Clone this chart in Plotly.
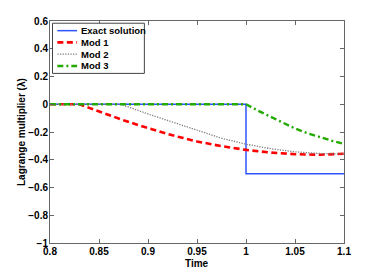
import plotly.graph_objects as go

t_exact = [0.8, 1.0, 1.0, 1.1]
v_exact = [0, 0, -0.5, -0.5]

t_mod1 = [0.80, 0.83, 0.84, 0.85, 0.86, 0.875, 0.89, 0.90, 0.925, 0.95, 0.975, 1.0, 1.025, 1.05, 1.075, 1.1]
v_mod1 = [0, 0, -0.026, -0.052, -0.078, -0.115, -0.150, -0.172, -0.224, -0.268, -0.302, -0.329, -0.348, -0.360, -0.364, -0.357]

t_mod2 = [0.80, 0.872, 0.9, 0.925, 0.95, 0.975, 1.0, 1.025, 1.05, 1.075, 1.1]
v_mod2 = [0, 0, -0.07, -0.13, -0.19, -0.245, -0.288, -0.32, -0.343, -0.355, -0.358]

t_mod3 = [0.80, 1.0, 1.0125, 1.025, 1.0375, 1.05, 1.0625, 1.075, 1.0875, 1.1]
v_mod3 = [0, 0, -0.047, -0.09, -0.134, -0.175, -0.208, -0.238, -0.263, -0.285]

names = ["Exact solution", "Mod 1", "Mod 2", "Mod 3"]
colors = ["#2f55ff", "#ff0000", "#808080", "#22aa00"]
widths = [1.5, 2.6, 1.3, 2.4]
dashes = ["solid", "6px,3.5px", "1.3px,1.3px", "6px,3px,2px,3px"]
series_x = [t_exact, t_mod1, t_mod2, t_mod3]
series_y = [v_exact, v_mod1, v_mod2, v_mod3]

FONT = "Liberation Sans"

fig = go.Figure()
for name, c, w, d, xs, ys in zip(names, colors, widths, dashes, series_x, series_y):
    fig.add_trace(go.Scatter(x=xs, y=ys, mode="lines", name=name, showlegend=False,
                             line=dict(color=c, width=w, dash=d)))

# compact MATLAB-style legend box (paper coordinates)
lx0, lx1, ly0, ly1 = 0.0085, 0.321, 0.764, 0.99
fig.add_shape(type="rect", xref="paper", yref="paper", x0=lx0, x1=lx1, y0=ly0, y1=ly1,
              line=dict(color="#444444", width=1), fillcolor="white", layer="above")
row_h = 0.053
y_first = 0.9565
for i, (name, c, w, d) in enumerate(zip(names, colors, widths, dashes)):
    yy = y_first - i * row_h
    fig.add_shape(type="line", xref="paper", yref="paper", x0=0.025, x1=0.092, y0=yy, y1=yy,
                  line=dict(color=c, width=w, dash=d), layer="above")
    fig.add_annotation(xref="paper", yref="paper", x=0.097, y=yy, text=name, showarrow=False,
                       xanchor="left", yanchor="middle",
                       font=dict(family=FONT, size=9.5, color="black", weight="bold"))

# axis titles placed as annotations
fig.add_annotation(xref="paper", yref="paper", x=0, y=0.5, xshift=-29, text="Lagrange multiplier (λ)",
                   textangle=-90, showarrow=False, xanchor="center", yanchor="middle",
                   font=dict(family=FONT, size=10, color="black", weight="bold"))
fig.add_annotation(xref="paper", yref="paper", x=0.5, y=0, yshift=-20, text="Time",
                   showarrow=False, xanchor="center", yanchor="middle",
                   font=dict(family=FONT, size=10, color="black", weight="bold"))

axis_common = dict(showline=True, linecolor="#666666", linewidth=1, mirror="ticks",
                   ticks="inside", ticklen=4, tickcolor="#666666", showgrid=False,
                   zeroline=False, automargin=False,
                   tickfont=dict(family=FONT, size=10, color="black", weight="bold"))

fig.update_layout(
    width=381, height=273,
    margin=dict(l=50, r=37, t=21, b=30),
    paper_bgcolor="white", plot_bgcolor="white",
    font=dict(family=FONT, size=10, color="black", weight="bold"),
    xaxis=dict(range=[0.8, 1.1], dtick=0.05, tick0=0.8, ticklabelstandoff=-1,
               **axis_common),
    yaxis=dict(range=[-1, 0.6], dtick=0.2, tick0=0, ticklabelstandoff=-1,
               **axis_common),
    showlegend=False,
)

fig.write_html("out.html", config={"displayModeBar": False},
               post_script="document.body.style.margin='0';document.body.style.overflow='hidden';")
